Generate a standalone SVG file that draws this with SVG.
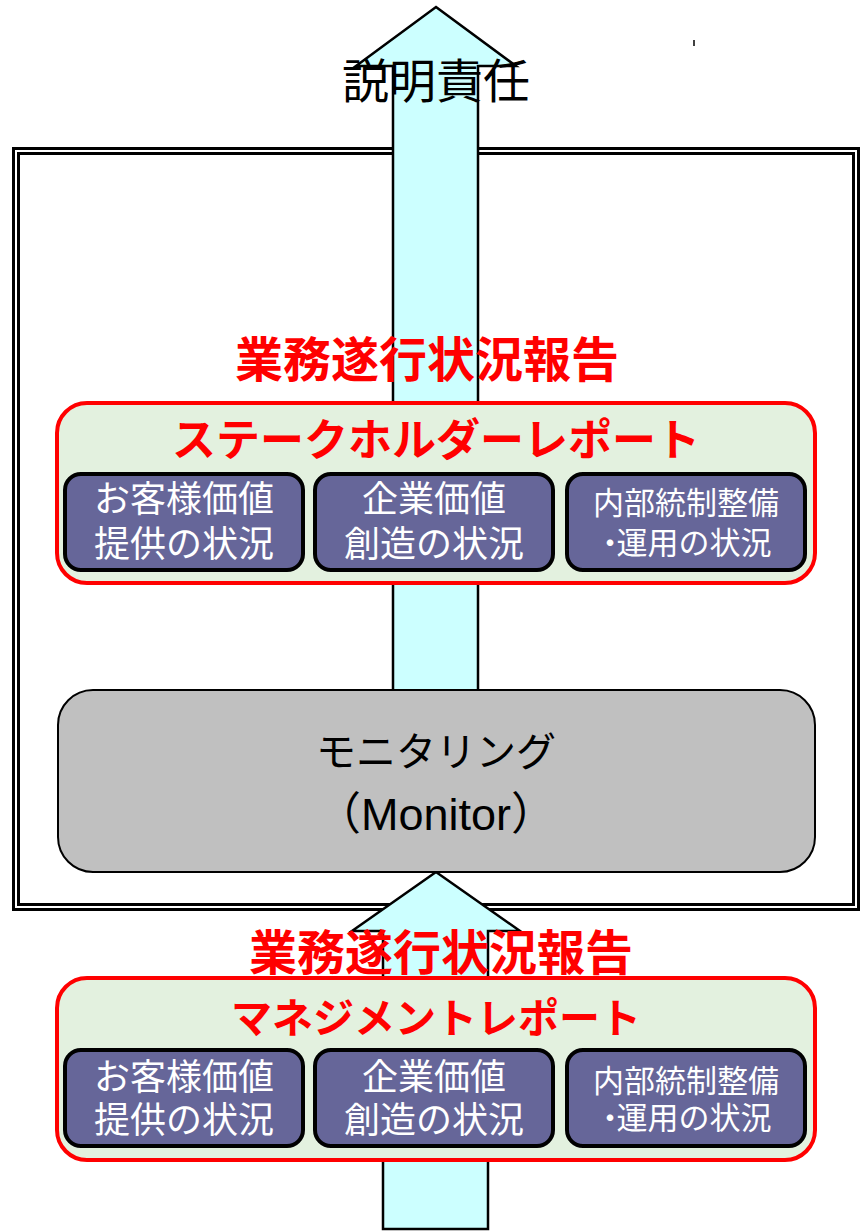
<svg xmlns="http://www.w3.org/2000/svg" width="867" height="1231" viewBox="0 0 867 1231">
<style>
.arrow{fill:#CCFFFF;stroke:#000;stroke-width:2.5;stroke-linejoin:miter}
.frame{fill:none;stroke:#000;stroke-width:3}
.panel{fill:#E3F1DF;stroke:#FF0000;stroke-width:4}
.sub{fill:#666699;stroke:#000;stroke-width:4}
.mon{fill:#C0C0C0;stroke:#000;stroke-width:2}
text{font-family:"Noto Sans CJK JP","Noto Sans",sans-serif;text-anchor:middle}
.red{fill:#FF0000;font-weight:bold}
.w{fill:#fff}
.lat{font-family:"Liberation Sans","Noto Sans CJK JP",sans-serif}
</style>
<rect x="0" y="0" width="867" height="1231" fill="#fff"/>
<g id="frame">
<rect class="frame" x="13.5" y="148.5" width="845" height="761"/>
<rect class="frame" x="18.5" y="153.5" width="835" height="751"/>
</g>
<line x1="694" y1="40" x2="694" y2="46" stroke="#000" stroke-width="1.5"/>
<g id="connectors">
<polygon class="arrow" points="436,7 516,66 478,66 478,691 393,691 393,66 356,66"/>
<polygon class="arrow" points="436,872 520,931 488,931 488,1229 383,1229 383,931 352,931"/>
</g>
<g id="accountability">
<text x="436" y="98" font-size="47">説明責任</text>
</g>
<g id="report-title-1">
<text class="red" x="427" y="377" font-size="48">業務遂行状況報告</text>
</g>
<g id="stakeholder-report">
<rect class="panel" x="57" y="403" width="758" height="180" rx="30"/>
<text class="red" x="436" y="456" font-size="44">ステークホルダーレポート</text>
</g>
<g id="sh-customer">
<rect class="sub" x="65" y="474" width="238" height="96" rx="16"/>
<text class="w" x="184" y="512" font-size="36">お客様価値</text>
<text class="w" x="184" y="557" font-size="36">提供の状況</text>
</g>
<g id="sh-corporate">
<rect class="sub" x="315" y="474" width="238" height="96" rx="16"/>
<text class="w" x="434" y="512" font-size="36">企業価値</text>
<text class="w" x="434" y="557" font-size="36">創造の状況</text>
</g>
<g id="sh-internal">
<rect class="sub" x="567" y="474" width="238" height="96" rx="16"/>
<text class="w" x="686" y="514" font-size="31">内部統制整備</text>
<text class="w" x="683" y="554" font-size="31"><tspan>・</tspan><tspan dx="-9">運用の状況</tspan></text>
</g>
<g id="monitoring">
<rect class="mon" x="58" y="690" width="757" height="182" rx="35"/>
<text x="436" y="766" font-size="40">モニタリング</text>
<text class="lat" x="436" y="830" font-size="45">（Monitor）</text>
</g>
<g id="report-title-2">
<text class="red" x="441" y="970" font-size="48">業務遂行状況報告</text>
</g>
<g id="management-report">
<rect class="panel" x="57" y="978" width="758" height="182" rx="30"/>
<text class="red" x="436" y="1033" font-size="41">マネジメントレポート</text>
</g>
<g id="mg-customer">
<rect class="sub" x="65" y="1050" width="238" height="96" rx="16"/>
<text class="w" x="184" y="1090" font-size="36">お客様価値</text>
<text class="w" x="184" y="1133" font-size="36">提供の状況</text>
</g>
<g id="mg-corporate">
<rect class="sub" x="315" y="1050" width="238" height="96" rx="16"/>
<text class="w" x="434" y="1090" font-size="36">企業価値</text>
<text class="w" x="434" y="1133" font-size="36">創造の状況</text>
</g>
<g id="mg-internal">
<rect class="sub" x="567" y="1050" width="238" height="96" rx="16"/>
<text class="w" x="686" y="1092" font-size="31">内部統制整備</text>
<text class="w" x="683" y="1129" font-size="31"><tspan>・</tspan><tspan dx="-9">運用の状況</tspan></text>
</g>
</svg>
